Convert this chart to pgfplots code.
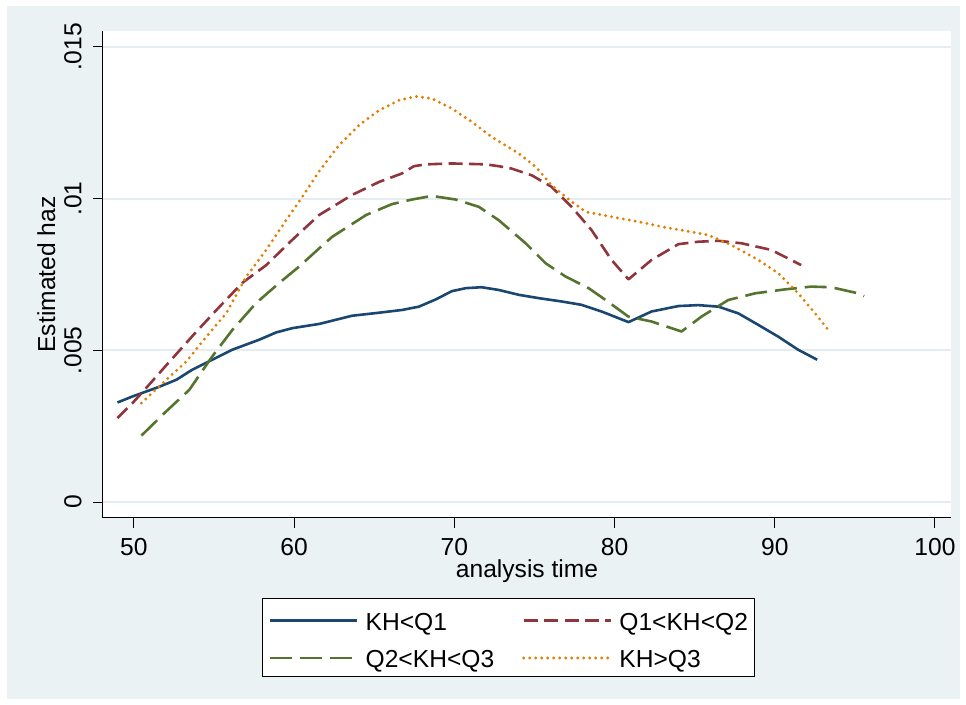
\documentclass[border=0pt]{standalone}
\usepackage{pgfplots}
\pgfplotsset{compat=1.18}
\usepackage{fontspec}
\setmainfont{Liberation Sans}
\definecolor{stnavy}{RGB}{26,71,111}
\definecolor{stmaroon}{RGB}{144,53,59}
\definecolor{stgreen}{RGB}{85,117,47}
\definecolor{storange}{RGB}{227,126,0}
\definecolor{bgc}{RGB}{234,242,243}
\definecolor{gridc}{RGB}{228,237,240}

\pgfplotstableread{
x y
48.97 0.00328
49.91 0.00348
51.59 0.00380
52.65 0.00403
53.64 0.00436
54.89 0.00469
56.14 0.00502
57.82 0.00535
58.88 0.00559
59.88 0.00573
61.56 0.00587
63.61 0.00614
65.30 0.00624
66.73 0.00633
67.79 0.00644
68.85 0.00668
69.84 0.00695
70.72 0.00705
71.71 0.00708
72.77 0.00699
74.02 0.00683
75.27 0.00672
76.70 0.00661
77.94 0.00650
79.19 0.00628
80.87 0.00593
82.31 0.00628
83.99 0.00646
85.23 0.00649
86.48 0.00644
87.72 0.00622
88.97 0.00584
90.22 0.00545
91.46 0.00502
92.65 0.00469
}\blue

\pgfplotstableread{
x y
48.97 0.00277
49.91 0.00326
50.53 0.00362
52.21 0.00462
53.89 0.00561
55.33 0.00643
56.76 0.00722
58.26 0.00781
59.88 0.00864
61.56 0.00946
63.61 0.01012
65.30 0.01055
66.73 0.01083
67.48 0.01107
68.22 0.01113
69.84 0.01116
71.96 0.01113
72.77 0.01107
73.58 0.01099
74.83 0.01077
76.07 0.01039
77.32 0.00973
78.57 0.00896
79.81 0.00798
80.87 0.00734
82.31 0.00798
83.99 0.00850
85.23 0.00858
86.48 0.00861
87.91 0.00853
89.78 0.00831
91.65 0.00781
}\red

\pgfplotstableread{
x y
50.47 0.00219
52.02 0.00299
53.46 0.00370
54.89 0.00480
56.14 0.00567
57.63 0.00656
59.07 0.00722
60.31 0.00776
61.56 0.00836
62.37 0.00874
64.49 0.00946
66.11 0.00982
67.35 0.00997
68.60 0.01009
70.09 0.00997
71.53 0.00973
72.77 0.00929
74.45 0.00853
75.70 0.00787
76.95 0.00743
78.38 0.00705
79.44 0.00666
80.87 0.00611
82.31 0.00595
84.18 0.00562
85.42 0.00611
87.10 0.00666
88.79 0.00688
90.65 0.00701
92.27 0.00710
93.52 0.00708
95.20 0.00688
95.58 0.00679
}\green

\pgfplotstableread{
x y
50.47 0.00326
52.02 0.00403
53.27 0.00463
54.52 0.00545
55.76 0.00622
57.01 0.00743
58.26 0.00831
59.50 0.00929
60.31 0.00990
61.56 0.01090
62.80 0.01176
64.05 0.01242
65.30 0.01291
66.54 0.01324
67.60 0.01337
68.60 0.01330
69.84 0.01297
71.09 0.01253
72.34 0.01203
74.02 0.01149
75.08 0.01105
76.07 0.01044
77.32 0.00990
78.19 0.00957
79.81 0.00940
81.50 0.00924
83.18 0.00905
84.42 0.00894
85.86 0.00880
87.29 0.00847
88.97 0.00798
90.22 0.00754
91.46 0.00688
92.52 0.00622
93.46 0.00559
}\orange

\begin{document}
\begin{tikzpicture}[font=\fontsize{12.3}{14.8}\selectfont]
\fill[white] (-51.5pt,-93.5pt) rectangle (431.5pt,259pt);
\fill[bgc] (-48pt,-90.5pt) rectangle (428.5pt,256pt);
\begin{axis}[
  at={(0pt,0pt)}, anchor=south west,
  scale only axis, width=424pt, height=243.5pt,
  xmin=48.07, xmax=101.0, ymin=-0.000526, ymax=0.015526,
  axis x line*=bottom, axis y line*=left,
  axis line style={black, line width=0.5pt},
  axis background/.style={fill=white},
  xtick={50,60,70,80,90,100},
  ytick={0,0.005,0.01,0.015},
  yticklabels={0,.005,.01,.015},
  scaled y ticks=false,
  tick align=outside, major tick length=5pt,
  tick style={black, line width=0.5pt},
  ymajorgrids, major grid style={gridc, line width=1pt},
  /pgf/number format/assume math mode=true,
  xticklabel style={anchor=north, inner xsep=0pt, inner ysep=5pt},
  yticklabel style={rotate=90, anchor=south, inner xsep=0pt, inner ysep=5.5pt},
  xlabel={analysis time},
  ylabel={Estimated haz},
  xlabel style={at={(axis description cs:0.5,-0.1232)}, anchor=base, inner sep=0pt},
  ylabel style={at={(axis description cs:-0.0566,0.5)}, anchor=base, inner sep=0pt},
  legend columns=2,
  legend cell align=left,
  legend image code/.code={\draw[#1] (0pt,-1pt) -- (43.5pt,-1pt);},
  legend style={at={(0.4782,-0.1643)}, anchor=north, draw=black, line width=0.5pt,
    fill=white, inner xsep=3.5pt, inner ysep=0.75pt, row sep=0pt,
    nodes={inner xsep=0pt},
    /tikz/every odd column/.append style={column sep=3.5pt},
    /tikz/every even column/.append style={column sep=14pt, text height=13.15pt, text depth=3.35pt, inner ysep=0pt}},
  every axis plot/.append style={line width=1.3pt, line join=round},
]
\addplot[stnavy] table {\blue};
\addlegendentry{KH<Q1}
\addplot[stmaroon, dash pattern=on 7pt off 3.2pt] table {\red};
\addlegendentry{Q1<KH<Q2}
\addplot[stgreen, dash pattern=on 11pt off 4pt] table {\green};
\addlegendentry{Q2<KH<Q3}
\addplot[storange, line width=1.6pt, line cap=round, dash pattern=on 0pt off 3pt] table {\orange};
\addlegendentry{KH>Q3}
\end{axis}
\end{tikzpicture}
\end{document}
